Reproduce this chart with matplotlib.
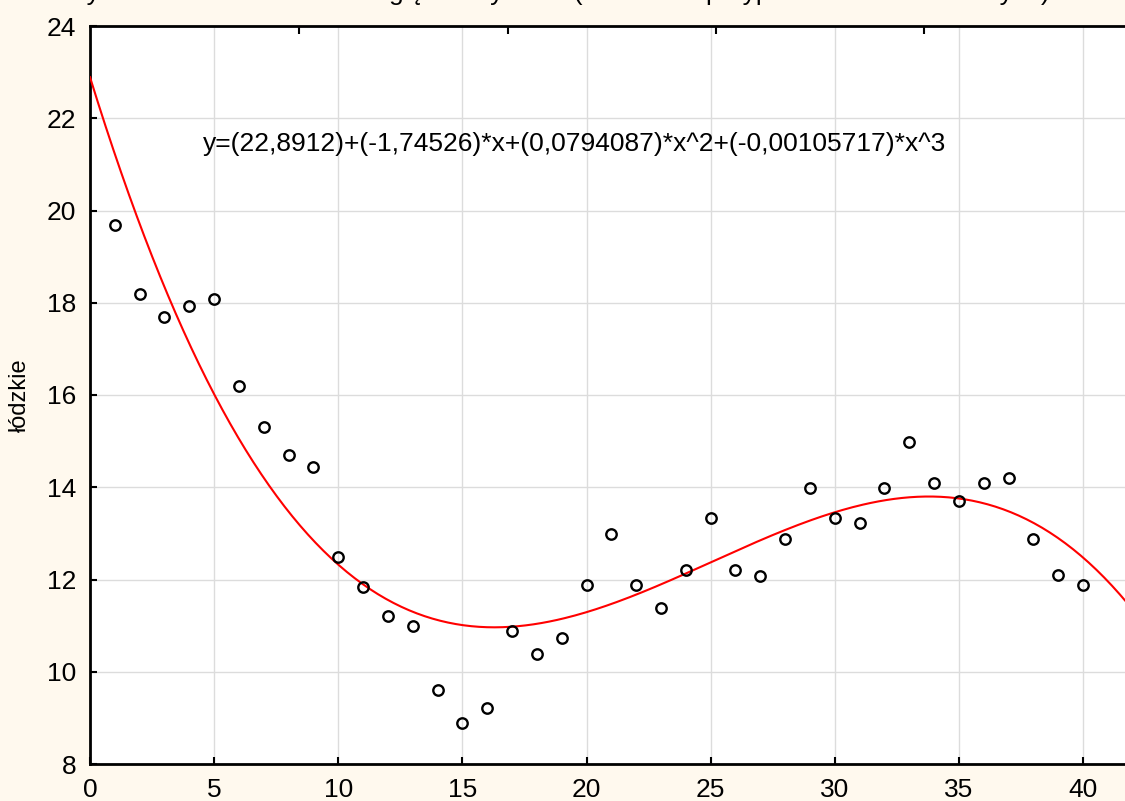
import numpy as np
import matplotlib
matplotlib.use("Agg")
import matplotlib.pyplot as plt

plt.rcParams['font.family'] = ['Liberation Sans', 'DejaVu Sans']

x_vals = list(range(1, 41))
y_vals = [19.69, 18.19, 17.69, 17.93, 18.08, 16.20, 15.31, 14.70, 14.44, 12.49,
          11.84, 11.21, 10.99, 9.60, 8.89, 9.21, 10.88, 10.38, 10.73, 11.88,
          12.99, 11.88, 11.38, 12.21, 13.33, 12.21, 12.08, 12.88, 13.98, 13.33,
          13.22, 13.98, 14.98, 14.09, 13.70, 14.09, 14.20, 12.88, 12.10, 11.88]
coefs = [22.8912, -1.74526, 0.0794087, -0.00105717]
equation = "y=(22,8912)+(-1,74526)*x+(0,0794087)*x^2+(-0,00105717)*x^3"
x_ticks = [0, 5, 10, 15, 20, 25, 30, 35, 40]
y_ticks = [8, 10, 12, 14, 16, 18, 20, 22, 24]
y_label = "łódzkie"
title = "Wykres rozrzutu: łódzkie względem tydzień (Usuwanie przypadkami braków danych)"

bg = '#FFF9EE'
fig = plt.figure(figsize=(11.25, 8.01), dpi=100, facecolor=bg)
ax = fig.add_axes([90/1125, 1-764/801, 1-90/1125, (764-26)/801])
ax.set_facecolor('white')

xmax = 41.69
xs = np.linspace(0, xmax, 400)
ys = sum(c * xs**i for i, c in enumerate(coefs))
ax.plot(xs, ys, color='#FF0000', lw=1.5, zorder=3)
ax.plot(x_vals, y_vals, 'o', mfc='none', mec='black', ms=7.5, mew=1.7, zorder=4, clip_on=False)

ax.set_xlim(0, xmax)
ax.set_ylim(8, 24)
ax.set_xticks(x_ticks)
ax.set_yticks(y_ticks)
ax.grid(True, color='#DCDCDC', lw=1)
ax.set_axisbelow(True)
ax.tick_params(direction='in', length=5, width=1.5, labelsize=19)
ax.tick_params(axis='y', pad=10)
ax.tick_params(axis='x', pad=10)
for s in ['left', 'bottom', 'top']:
    ax.spines[s].set_linewidth(2)
    ax.spines[s].set_color('black')
ax.spines['right'].set_visible(False)

# top ticks (secondary scale)
sec = ax.secondary_xaxis('top')
sec.set_xticks([8.43, 16.85, 25.2, 33.6])
sec.set_xticklabels([])
sec.tick_params(direction='in', length=6, width=1.5)
sec.spines['top'].set_visible(False)

ax.set_ylabel(y_label, fontsize=17)
ax.yaxis.set_label_coords(-0.057, 0.5)

ax.text(4.56, 21.44, equation, fontsize=19, va='center', ha='left')

fig.text(0.055, 1.0, title, fontsize=19, va='baseline', ha='left')

fig.savefig('out.png', dpi=100, facecolor=bg)
